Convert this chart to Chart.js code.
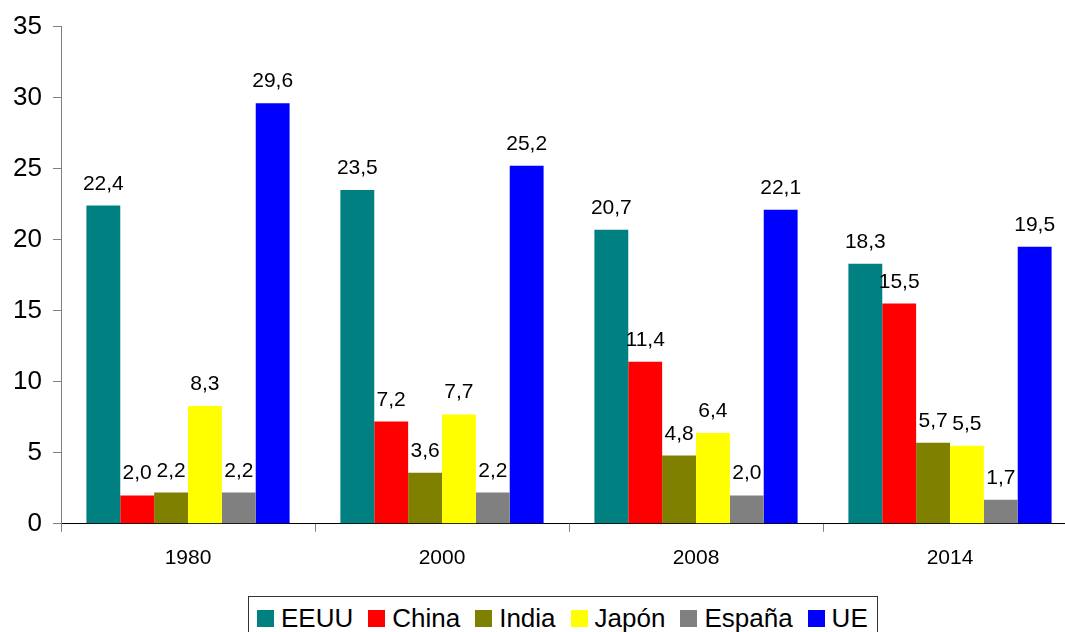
<!DOCTYPE html>
<html>
<head>
<meta charset="utf-8">
<script src="https://cdn.jsdelivr.net/npm/chart.js@4/dist/chart.umd.min.js"></script>
<style>
  body { margin: 0; background: #fff; font-family: 'Liberation Sans', Arial, sans-serif; }
  #page { position: relative; width: 1065px; height: 632px; overflow: hidden; }
  #box { position: absolute; left: 0; top: 0; width: 1100px; height: 593px; }
  #legend {
    position: absolute; left: 248px; top: 596px;
    border: 1px solid #333; padding: 4px 9px 8px 8px;
    font-size: 26px; line-height: 34px; white-space: nowrap; color: #000;
  }
  #legend .item { display: inline-block; margin-right: 15px; }
  #legend .item:last-child { margin-right: 0; }
  #legend .sw { display: inline-block; width: 17px; height: 17px; margin-right: 7px; vertical-align: baseline; }
</style>
</head>
<body>
<div id="page">
  <div id="box"><canvas id="chart"></canvas></div>
  <div id="legend"></div>
</div>
<script>
const years = ['1980', '2000', '2008', '2014']
const eeuu = [22.4, 23.5, 20.7, 18.3]
const china = [2.0, 7.2, 11.4, 15.5]
const india = [2.2, 3.6, 4.8, 5.7]
const japon = [8.3, 7.7, 6.4, 5.5]
const espana = [2.2, 2.2, 2.0, 1.7]
const ue = [29.6, 25.2, 22.1, 19.5]

const font = "'Liberation Sans', Arial, sans-serif"

// Value labels above each bar, with decimal comma
const valueLabels = {
  id: 'valueLabels',
  afterDatasetsDraw (chart) {
    const ctx = chart.ctx
    ctx.save()
    ctx.font = '21px ' + font
    ctx.fillStyle = '#000'
    ctx.textAlign = 'center'
    ctx.textBaseline = 'alphabetic'
    chart.data.datasets.forEach((ds, i) => {
      chart.getDatasetMeta(i).data.forEach((bar, j) => {
        const txt = ds.data[j].toFixed(1).replace('.', ',')
        ctx.fillText(txt, bar.x, bar.y - 16)
      })
    })
    ctx.restore()
  }
}

const myChart = new Chart(document.querySelector('#chart').getContext('2d'), {
  type: 'bar',
  data: {
    labels: years,
    datasets: [
      { label: 'EEUU', data: eeuu, backgroundColor: '#008080' },
      { label: 'China', data: china, backgroundColor: '#ff0000' },
      { label: 'India', data: india, backgroundColor: '#808000' },
      { label: 'Japón', data: japon, backgroundColor: '#ffff00' },
      { label: 'España', data: espana, backgroundColor: '#808080' },
      { label: 'UE', data: ue, backgroundColor: '#0000ff' }
    ]
  },
  options: {
    responsive: true,
    maintainAspectRatio: false,
    animation: false,
    categoryPercentage: 0.8,
    barPercentage: 1,
    layout: { padding: { top: 17, right: 23, bottom: 8, left: 0 } },
    scales: {
      x: {
        grid: { offset: true, drawOnChartArea: false, tickLength: 8, color: '#808080' },
        border: { color: '#000', width: 1 },
        ticks: { font: { family: font, size: 21 }, color: '#000', padding: 14 }
      },
      y: {
        min: 0,
        max: 35,
        afterFit (scale) { scale.width = 61 },
        grid: { drawOnChartArea: false, tickLength: 8, color: '#808080' },
        border: { color: '#808080', width: 1 },
        ticks: { stepSize: 5, font: { family: font, size: 26 }, color: '#000', padding: 11 }
      }
    },
    plugins: {
      legend: { display: false },
      tooltip: { enabled: false }
    }
  },
  plugins: [valueLabels]
})

// Boxed legend under the chart
const legend = document.querySelector('#legend')
myChart.data.datasets.forEach(ds => {
  const item = document.createElement('span')
  item.className = 'item'
  const sw = document.createElement('span')
  sw.className = 'sw'
  sw.style.background = ds.backgroundColor
  item.appendChild(sw)
  item.appendChild(document.createTextNode(ds.label))
  legend.appendChild(item)
})
</script>
</body>
</html>
